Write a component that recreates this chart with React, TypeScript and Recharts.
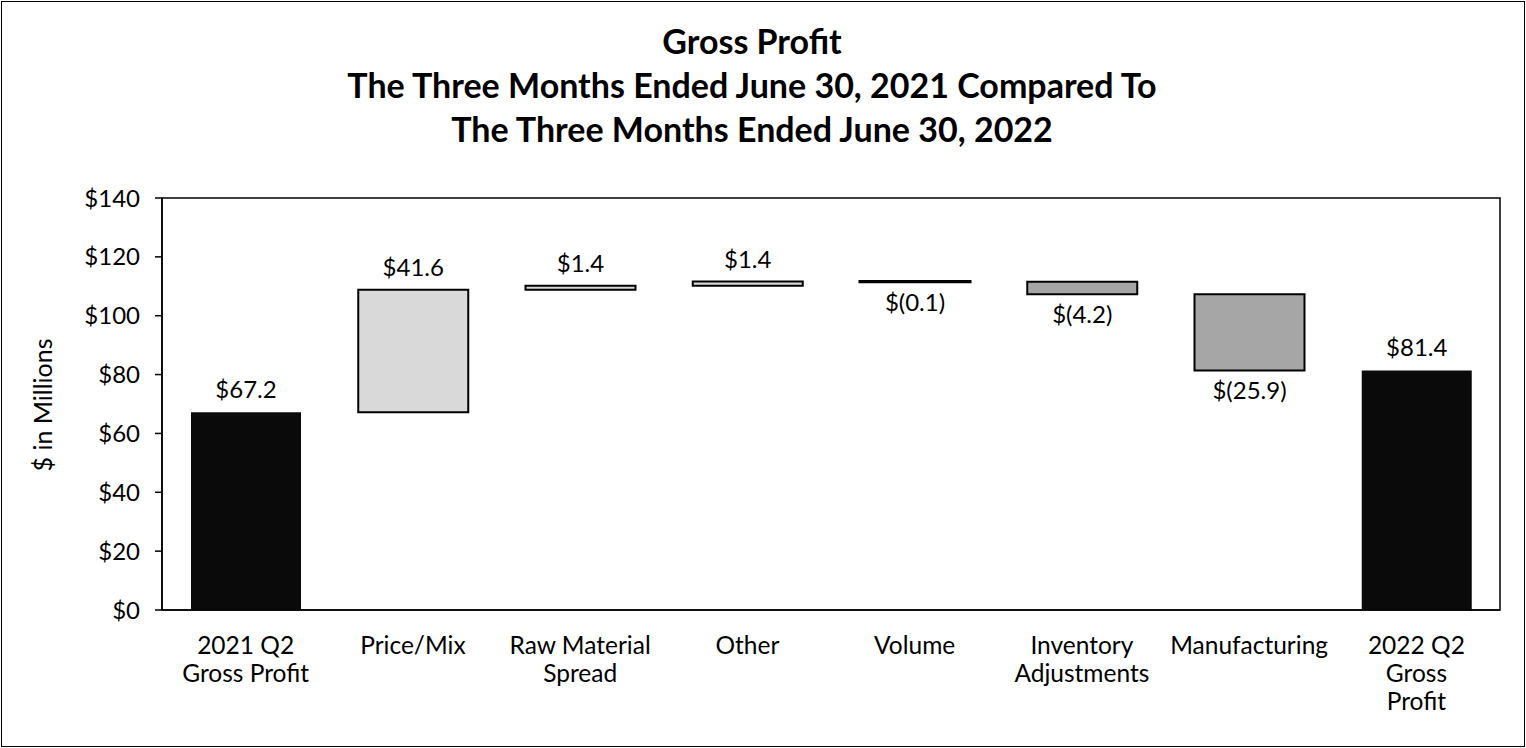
import React from "react";
import {
  BarChart,
  Bar,
  XAxis,
  YAxis,
  Cell,
  LabelList,
  ReferenceArea,
} from "recharts";

const categories = [
  "2021 Q2\nGross Profit",
  "Price/Mix",
  "Raw Material\nSpread",
  "Other",
  "Volume",
  "Inventory\nAdjustments",
  "Manufacturing",
  "2022 Q2\nGross\nProfit",
];
// change for each step; totals are the first and last
const deltas = [67.2, 41.6, 1.4, 1.4, -0.1, -4.2, -25.9, 81.4];
const kinds = ["total", "step", "step", "step", "step", "step", "step", "total"];
const yTicks = [0, 20, 40, 60, 80, 100, 120, 140];

const FONT = "Lato, 'Open Sans', sans-serif";
const TOTAL_FILL = "#0a0a0a";
const UP_FILL = "#d9d9d9";
const DOWN_FILL = "#a6a6a6";

// build running ranges [low, high] for the waterfall
let running = 0;
const data = categories.map((name, i) => {
  const d = deltas[i];
  let range: [number, number];
  if (kinds[i] === "total") {
    range = [0, d];
    running = d;
  } else {
    const start = running;
    running = +(running + d).toFixed(1);
    range = [Math.min(start, running), Math.max(start, running)];
  }
  return { name, range, delta: d, kind: kinds[i] };
});

const fmt = (v: number) =>
  v < 0 ? `$(${Math.abs(v).toFixed(1)})` : `$${v.toFixed(1)}`;

const XTick = (props: any) => {
  const { x, y, payload } = props;
  const lines = String(payload.value).split("\n");
  return (
    <g transform={`translate(${x},${y})`}>
      {lines.map((l, i) => (
        <text
          key={i}
          x={0}
          y={i * 28 + 36}
          textAnchor="middle"
          fill="#000"
          fontSize={24.5}
          fontFamily={FONT}
        >
          {l}
        </text>
      ))}
    </g>
  );
};

const ValueLabel = (props: any) => {
  const { x, y, width, height, index } = props;
  const d = data[index];
  const top = Math.min(y, y + height);
  const bottom = Math.max(y, y + height);
  const neg = d.delta < 0;
  return (
    <text
      x={x + width / 2}
      y={neg ? bottom + 29 : top - 14}
      textAnchor="middle"
      fill="#000"
      fontSize={24}
      fontFamily={FONT}
    >
      {fmt(d.delta)}
    </text>
  );
};

export default function App() {
  return (
    <div
      style={{
        position: "absolute",
        left: 0,
        top: 0,
        width: 1526,
        height: 748,
        background: "#fff",
      }}
    >
      <div
        style={{
          position: "absolute",
          left: 1,
          top: 1,
          width: 1522,
          height: 744,
          border: "1px solid #000",
        }}
      />
      <div
        style={{
          position: "absolute",
          left: 0,
          width: 1504,
          top: 19,
          textAlign: "center",
          fontFamily: FONT,
          fontWeight: 700,
          fontSize: 34,
          lineHeight: "44px",
          color: "#000",
        }}
      >
        <div>Gross Profit</div>
        <div>The Three Months Ended June 30, 2021 Compared To</div>
        <div>The Three Months Ended June 30, 2022</div>
      </div>
      <div
        style={{
          position: "absolute",
          left: 42,
          top: 405,
          transform: "translate(-50%, -50%) rotate(-90deg)",
          fontFamily: FONT,
          fontSize: 25,
          whiteSpace: "nowrap",
          color: "#000",
        }}
      >
        $ in Millions
      </div>
      <div style={{ position: "absolute", left: 0, top: 0 }}>
        <BarChart
          width={1526}
          height={748}
          data={data}
          margin={{ top: 198, right: 26, bottom: 0, left: 0 }}
        >
          <XAxis
            dataKey="name"
            interval={0}
            tick={<XTick />}
            tickLine={false}
            axisLine={{ stroke: "#000", strokeWidth: 1.5 }}
            height={138}
          />
          <YAxis
            domain={[0, 140]}
            ticks={yTicks}
            tickFormatter={(v) => `$${v}`}
            tick={{ fill: "#000", fontSize: 24, fontFamily: FONT }}
            tickLine={{ stroke: "#000", strokeWidth: 1.5 }}
            tickSize={7}
            tickMargin={15}
            axisLine={{ stroke: "#000", strokeWidth: 1.5 }}
            width={162}
            interval={0}
          />
          {/* plot-area frame (top and right edges) */}
          <ReferenceArea
            y1={0}
            y2={140}
            fill="none"
            stroke="#000"
            strokeWidth={1.5}
            ifOverflow="visible"
          />
          <Bar dataKey="range" barSize={110} isAnimationActive={false}>
            {data.map((d, i) => (
              <Cell
                key={i}
                fill={
                  d.kind === "total"
                    ? TOTAL_FILL
                    : d.delta >= 0
                    ? UP_FILL
                    : DOWN_FILL
                }
                stroke={d.kind === "total" ? "none" : "#000"}
                strokeWidth={Math.abs(d.delta) < 0.5 ? 3 : 2}
              />
            ))}
            <LabelList dataKey="delta" content={<ValueLabel />} />
          </Bar>
        </BarChart>
      </div>
    </div>
  );
}
